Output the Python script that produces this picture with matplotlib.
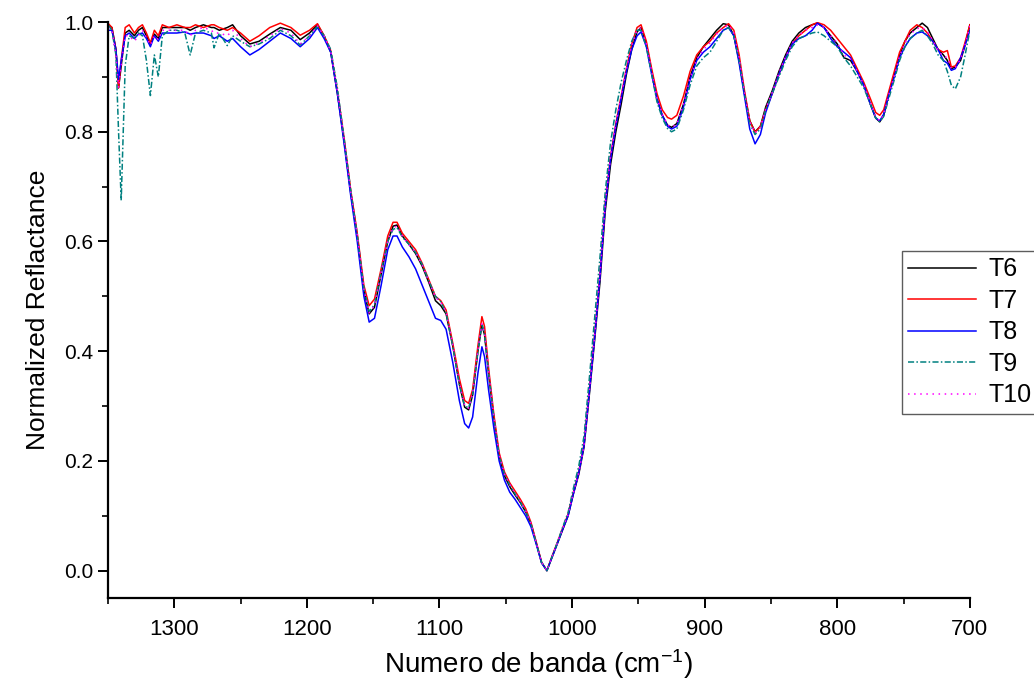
import numpy as np
import matplotlib
matplotlib.use("Agg")
import matplotlib.pyplot as plt
from matplotlib.ticker import MultipleLocator

# wavenumber grid (cm-1), shared by all samples
wavenumber = [
    1350, 1347, 1344, 1342, 1340, 1337, 1334, 1330, 1327, 1324,
    1321, 1318, 1315, 1312, 1309, 1304, 1298, 1292, 1288, 1284,
    1278, 1272, 1270, 1266, 1260, 1256, 1250, 1243, 1236, 1228,
    1220, 1212, 1205, 1198, 1192, 1187, 1182, 1177, 1172, 1167,
    1162, 1157, 1153, 1149, 1144, 1139, 1135, 1132, 1128, 1123,
    1118, 1113, 1108, 1103, 1099, 1095, 1090, 1085, 1081, 1078,
    1075, 1071, 1068, 1066, 1063, 1059, 1055, 1051, 1047, 1043,
    1039, 1035, 1031, 1027, 1023, 1019, 1015, 1011, 1007, 1003,
    999, 995, 991, 987, 983, 979, 975, 971, 967, 963,
    959, 955, 951, 948, 944, 940, 936, 932, 928, 925,
    921, 916, 911, 906, 901, 896, 891, 886, 882, 878,
    874, 870, 866, 862, 858, 854, 849, 844, 839, 834,
    829, 824, 819, 815, 810, 805, 800, 795, 790, 785,
    780, 775, 771, 768, 765, 761, 757, 753, 749, 745,
    740, 736, 732, 728, 724, 720, 717, 714, 711, 707,
    704, 700,
]

t6 = [
    0.995, 0.99, 0.95, 0.88, 0.92, 0.98, 0.985, 0.975, 0.985, 0.99,
    0.975, 0.96, 0.978, 0.97, 0.99, 0.99, 0.99, 0.99, 0.985, 0.99,
    0.995, 0.99, 0.99, 0.985, 0.99, 0.995, 0.975, 0.96, 0.965, 0.978,
    0.99, 0.985, 0.968, 0.98, 0.995, 0.975, 0.945, 0.87, 0.785, 0.69,
    0.61, 0.51, 0.468, 0.48, 0.54, 0.6, 0.628, 0.63, 0.61, 0.595,
    0.578, 0.555, 0.525, 0.492, 0.483, 0.468, 0.41, 0.34, 0.298, 0.293,
    0.32, 0.40, 0.448, 0.43, 0.36, 0.278, 0.208, 0.173, 0.153, 0.138,
    0.124, 0.107, 0.085, 0.05, 0.015, 0.0, 0.025, 0.05, 0.075, 0.1,
    0.14, 0.175, 0.225, 0.32, 0.42, 0.525, 0.655, 0.74, 0.80, 0.85,
    0.905, 0.95, 0.982, 0.99, 0.96, 0.91, 0.86, 0.83, 0.812, 0.808,
    0.815, 0.85, 0.9, 0.935, 0.955, 0.97, 0.985, 0.997, 0.995, 0.975,
    0.93, 0.87, 0.82, 0.8, 0.81, 0.845, 0.875, 0.91, 0.94, 0.965,
    0.98, 0.99, 0.995, 0.998, 0.99, 0.975, 0.96, 0.935, 0.93, 0.91,
    0.885, 0.85, 0.825, 0.818, 0.83, 0.87, 0.905, 0.94, 0.965, 0.98,
    0.99, 0.998, 0.99, 0.97, 0.95, 0.94, 0.93, 0.915, 0.918, 0.93,
    0.955, 0.995,
]

t7 = [
    0.998, 0.99, 0.95, 0.88, 0.93, 0.99, 0.995, 0.98, 0.99, 0.995,
    0.98, 0.962, 0.985, 0.975, 0.995, 0.99, 0.995, 0.99, 0.99, 0.995,
    0.99, 0.995, 0.995, 0.99, 0.985, 0.99, 0.98, 0.965, 0.975, 0.99,
    0.998, 0.99, 0.976, 0.985, 0.997, 0.975, 0.948, 0.875, 0.79, 0.695,
    0.615, 0.52, 0.483, 0.495, 0.55, 0.61, 0.635, 0.635, 0.615, 0.6,
    0.585, 0.56, 0.53, 0.5, 0.492, 0.475, 0.415, 0.35, 0.31, 0.305,
    0.33, 0.41, 0.463, 0.445, 0.37, 0.285, 0.215, 0.18, 0.16, 0.145,
    0.13, 0.113, 0.088, 0.052, 0.015, 0.0, 0.027, 0.052, 0.078, 0.103,
    0.143, 0.18, 0.23, 0.33, 0.43, 0.54, 0.67, 0.755, 0.815, 0.865,
    0.915, 0.96, 0.99, 0.995, 0.965, 0.915, 0.87, 0.84, 0.826, 0.823,
    0.83, 0.865, 0.91, 0.94, 0.955, 0.965, 0.98, 0.99, 0.997, 0.985,
    0.94, 0.875, 0.82, 0.799, 0.81, 0.84, 0.87, 0.905, 0.935, 0.96,
    0.975, 0.985, 0.995, 0.999, 0.995, 0.985, 0.97, 0.955, 0.94, 0.915,
    0.89, 0.86, 0.835, 0.83, 0.84, 0.875, 0.91, 0.945, 0.965, 0.985,
    0.995, 0.99, 0.98, 0.965, 0.95, 0.945, 0.948, 0.918, 0.92, 0.935,
    0.96, 0.995,
]

t8 = [
    0.985, 0.985, 0.95, 0.895, 0.93, 0.975, 0.98, 0.97, 0.978, 0.98,
    0.97, 0.955, 0.975, 0.965, 0.98, 0.98, 0.98, 0.982, 0.978, 0.98,
    0.98, 0.975, 0.97, 0.975, 0.965, 0.97, 0.955, 0.94, 0.95, 0.965,
    0.98, 0.97, 0.955, 0.97, 0.99, 0.97, 0.945, 0.87, 0.78, 0.685,
    0.6, 0.5, 0.453, 0.46, 0.52, 0.585, 0.61, 0.61, 0.59, 0.572,
    0.55, 0.52, 0.49, 0.46, 0.456, 0.44, 0.38, 0.31, 0.268, 0.26,
    0.28, 0.36, 0.408, 0.39, 0.33, 0.26, 0.2, 0.165, 0.143, 0.13,
    0.115, 0.1, 0.08, 0.048, 0.014, 0.0, 0.025, 0.05, 0.076, 0.1,
    0.14, 0.178, 0.228, 0.325, 0.425, 0.535, 0.665, 0.75, 0.81, 0.86,
    0.91, 0.95, 0.975, 0.982, 0.955, 0.905, 0.86, 0.83, 0.81, 0.805,
    0.81, 0.845, 0.895, 0.93, 0.945, 0.955, 0.97, 0.985, 0.99, 0.975,
    0.925, 0.865, 0.805, 0.778, 0.795, 0.835, 0.87, 0.905, 0.935, 0.96,
    0.97, 0.975, 0.985, 0.998, 0.99, 0.97, 0.955, 0.945, 0.935, 0.91,
    0.885, 0.85, 0.825, 0.82, 0.832, 0.868, 0.9, 0.935, 0.955, 0.97,
    0.98, 0.982, 0.975, 0.965, 0.95, 0.93, 0.925, 0.912, 0.915, 0.935,
    0.955, 0.985,
]

t9 = [
    0.995, 0.985, 0.94, 0.80, 0.675, 0.92, 0.975, 0.97, 0.98, 0.975,
    0.93, 0.866, 0.94, 0.9, 0.975, 0.985, 0.985, 0.98, 0.94, 0.98,
    0.985, 0.98, 0.953, 0.98, 0.957, 0.975, 0.965, 0.955, 0.96, 0.97,
    0.985, 0.975, 0.958, 0.975, 0.992, 0.975, 0.95, 0.88, 0.79, 0.695,
    0.612, 0.515, 0.472, 0.485, 0.545, 0.6, 0.622, 0.625, 0.608, 0.595,
    0.58, 0.558, 0.528, 0.5, 0.49, 0.47, 0.41, 0.34, 0.3, 0.297,
    0.322, 0.4, 0.45, 0.432, 0.362, 0.28, 0.21, 0.176, 0.156, 0.14,
    0.125, 0.108, 0.086, 0.05, 0.015, 0.0, 0.026, 0.052, 0.08, 0.106,
    0.15, 0.19, 0.245, 0.35, 0.46, 0.57, 0.69, 0.78, 0.84, 0.89,
    0.93, 0.965, 0.985, 0.985, 0.955, 0.905, 0.855, 0.825, 0.806, 0.8,
    0.805, 0.84, 0.885, 0.92, 0.935, 0.945, 0.965, 0.985, 0.99, 0.975,
    0.93, 0.87, 0.815, 0.795, 0.805, 0.84, 0.87, 0.9, 0.93, 0.955,
    0.97, 0.975, 0.98, 0.982, 0.975, 0.965, 0.955, 0.935, 0.92, 0.9,
    0.88, 0.85, 0.825, 0.818, 0.828, 0.862, 0.895, 0.93, 0.955, 0.97,
    0.98, 0.985, 0.975, 0.96, 0.94, 0.93, 0.91, 0.885, 0.878, 0.9,
    0.935, 0.985,
]

t10 = [
    0.99, 0.985, 0.94, 0.88, 0.92, 0.975, 0.975, 0.965, 0.975, 0.985,
    0.972, 0.958, 0.975, 0.968, 0.985, 0.985, 0.985, 0.985, 0.975, 0.985,
    0.99, 0.985, 0.98, 0.98, 0.975, 0.985, 0.97, 0.955, 0.962, 0.975,
    0.988, 0.98, 0.96, 0.975, 0.993, 0.975, 0.947, 0.875, 0.787, 0.692,
    0.612, 0.513, 0.47, 0.483, 0.543, 0.6, 0.625, 0.628, 0.61, 0.594,
    0.58, 0.557, 0.527, 0.498, 0.489, 0.472, 0.412, 0.342, 0.3, 0.296,
    0.322, 0.402, 0.45, 0.433, 0.363, 0.281, 0.211, 0.176, 0.157, 0.141,
    0.126, 0.109, 0.086, 0.05, 0.015, 0.0, 0.026, 0.051, 0.077, 0.102,
    0.142, 0.178, 0.228, 0.326, 0.428, 0.538, 0.668, 0.755, 0.815, 0.865,
    0.915, 0.958, 0.985, 0.99, 0.96, 0.91, 0.862, 0.832, 0.813, 0.808,
    0.814, 0.85, 0.898, 0.932, 0.95, 0.962, 0.978, 0.99, 0.995, 0.98,
    0.935, 0.872, 0.818, 0.798, 0.808, 0.842, 0.872, 0.907, 0.937, 0.962,
    0.976, 0.985, 0.99, 0.995, 0.99, 0.975, 0.962, 0.94, 0.932, 0.91,
    0.886, 0.852, 0.827, 0.82, 0.832, 0.868, 0.902, 0.938, 0.962, 0.978,
    0.988, 0.99, 0.982, 0.967, 0.948, 0.938, 0.935, 0.915, 0.917, 0.932,
    0.955, 0.993,
]

labels = ["T6", "T7", "T8", "T9", "T10"]
series = [t6, t7, t8, t9, t10]
colors = ["black", "#ff0000", "#0000ff", "#008080", "#ff00ff"]
styles = ["-", "-", "-", (0, (4, 1.5, 1, 1.5)), (0, (1, 3))]

for s in series:
    assert len(s) == len(wavenumber), len(s)

plt.rcParams['font.family'] = ['Liberation Sans', 'DejaVu Sans']
plt.rcParams['mathtext.default'] = 'regular'

fig = plt.figure(figsize=(10.34, 6.89), dpi=100)
ax = fig.add_axes([0.1044, 0.132, 0.8336, 0.836])

x = np.array(wavenumber)
for s, lab, c, ls in zip(series, labels, colors, styles):
    ax.plot(x, np.array(s), color=c, linestyle=ls, linewidth=1.1, label=lab)

ax.set_xlim(1350, 700)
ax.set_ylim(-0.05, 1.0)

ax.spines['top'].set_visible(False)
ax.spines['right'].set_visible(False)
ax.spines['left'].set_linewidth(1.6)
ax.spines['bottom'].set_linewidth(1.6)

ax.xaxis.set_major_locator(MultipleLocator(100))
ax.xaxis.set_minor_locator(MultipleLocator(50))
ax.yaxis.set_major_locator(MultipleLocator(0.2))
ax.yaxis.set_minor_locator(MultipleLocator(0.1))
ax.tick_params(which='major', direction='out', length=7, width=1.4, labelsize=15)
ax.tick_params(which='minor', direction='out', length=4, width=1.2)
ax.tick_params(axis='x', pad=8, labelsize=16)

ax.set_xlabel("Numero de banda (cm$^{-1}$)", fontsize=20, labelpad=5)
ax.set_ylabel("Normalized Reflactance", fontsize=19, labelpad=10)

leg = ax.legend(loc='upper left', bbox_to_anchor=(902 / 1034, 1 - 251 / 689),
                bbox_transform=fig.transFigure, fontsize=18, frameon=True,
                fancybox=False, edgecolor='#333333', handlelength=2.7,
                labelspacing=0.3, borderpad=0.25, handletextpad=0.5,
                borderaxespad=0)
leg.get_frame().set_linewidth(1.0)

fig.savefig("out.png", dpi=100)
